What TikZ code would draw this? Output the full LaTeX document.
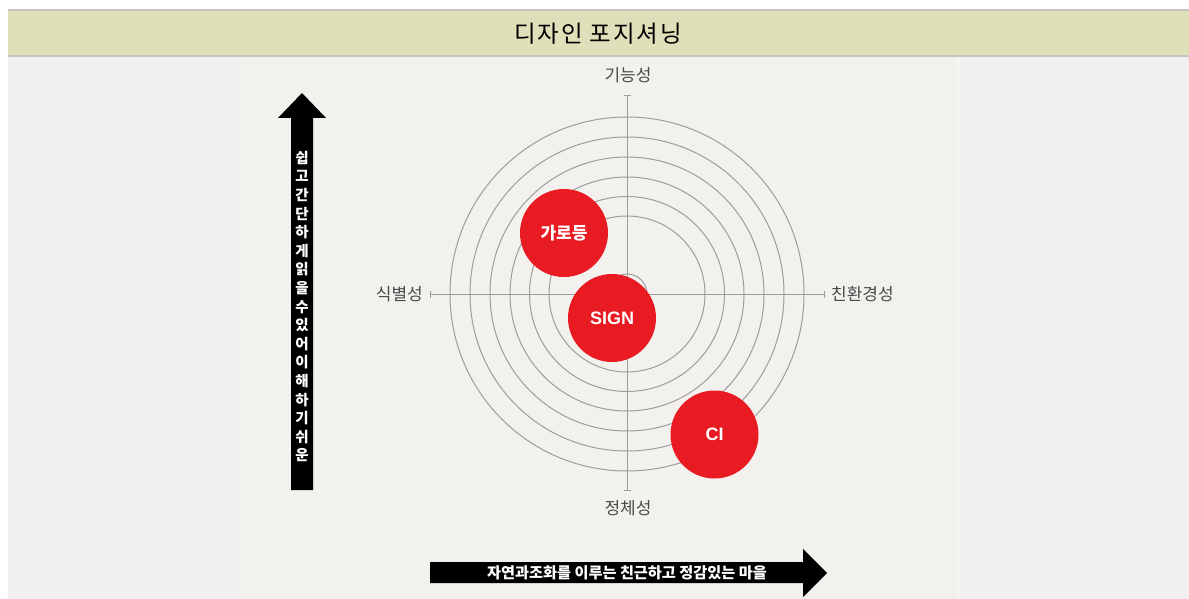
\documentclass[tikz,border=0pt]{standalone}
\usepackage{fontspec}
\setmainfont{Noto Sans CJK KR}
\newfontfamily\latfont{Liberation Sans}
\definecolor{pagebg}{HTML}{F0F0F0}
\definecolor{panelbg}{HTML}{F3F1EE}
\definecolor{titlebg}{HTML}{DFDFBA}
\definecolor{titleline}{HTML}{C4C4C4}
\definecolor{ringcol}{HTML}{9C9C9C}
\definecolor{labelcol}{HTML}{4A4A4A}
\definecolor{dotred}{HTML}{E81A22}
\tikzset{
  ring/.style={draw=ringcol, line width=1pt},
  axisline/.style={draw=ringcol, line width=1pt},
  axislabel/.style={text=labelcol, font=\fontsize{17}{20}\selectfont, inner sep=0pt},
  reddot/.style={circle, fill=dotred, minimum size=88pt, inner sep=0pt, text=white},
  blackarrow/.style={fill=black},
}
\begin{document}
\begin{tikzpicture}[x=1pt,y=-1pt]
\useasboundingbox (0,0) rectangle (1189,599);
\fill[white] (0,0) rectangle (1189,599);
\fill[pagebg] (8,57) rectangle (1189,599);
\fill[panelbg] (239,57) rectangle (958,599);
\draw[white!60!panelbg, line width=1pt] (958.5,57) -- (958.5,599);
\fill[titlebg] (8,10) rectangle (1189,56);
\draw[titleline, line width=1.2pt] (8,10) -- (1189,10);
\draw[titleline, line width=1.2pt] (8,56) -- (1189,56);
\node[font=\fontsize{23.5}{26}\selectfont\addfontfeature{LetterSpace=8}, inner sep=0pt] (title) at (598,34) {디자인 포지셔닝};

% rings
\coordinate (ctr) at (627,294);
\foreach \r in {20,78,97.5,117,137,157,177}
  \draw[ring] (ctr) circle[radius=\r];
% axes
\coordinate (axN) at (627,96);
\coordinate (axS) at (627,490);
\coordinate (axW) at (430,294);
\coordinate (axE) at (824,294);
\draw[axisline] (axN) -- (axS);
\draw[axisline] (axW) -- (axE);
\draw[axisline] ([xshift=-3.5pt]axN) -- ([xshift=3.5pt]axN);
\draw[axisline] ([xshift=-3.5pt]axS) -- ([xshift=3.5pt]axS);
\draw[axisline] ([yshift=-3.5pt]axW) -- ([yshift=3.5pt]axW);
\draw[axisline] ([yshift=-3.5pt]axE) -- ([yshift=3.5pt]axE);

\node[axislabel] (lblN) at (628,75) {기능성};
\node[axislabel] (lblS) at (628,508) {정체성};
\node[axislabel, anchor=east] (lblW) at (423,294) {식별성};
\node[axislabel, anchor=west] (lblE) at (831,294) {친환경성};

% red dots
\node[reddot, font=\fontsize{17}{20}\selectfont\bfseries] (lamp) at (564,233) {가로등};
\node[reddot, font=\latfont\fontsize{18}{20}\selectfont\bfseries] (sign) at (612,318) {SIGN};
\node[reddot, font=\latfont\fontsize{18}{20}\selectfont\bfseries] (ci) at (714.5,434.5) {CI};

% vertical arrow
\fill[blackarrow] (291,490) -- (291,118) -- (278,118) -- (302,93) -- (326,118) -- (313,118) -- (313,490) -- cycle;
\node[text=white, font=\fontsize{14.5}{18.6}\selectfont\bfseries, align=center, inner sep=0pt] (vtext) at (302,306.5)
  {쉽\\고\\간\\단\\하\\게\\읽\\을\\수\\있\\어\\이\\해\\하\\기\\쉬\\운};

% horizontal arrow
\fill[blackarrow] (430,562) -- (803,562) -- (803,549) -- (827,573) -- (803,597) -- (803,583) -- (430,583) -- cycle;
\node[text=white, font=\fontsize{15.2}{17}\selectfont\bfseries, inner sep=0pt] (htext) at (627,573)
  {자연과조화를 이루는 친근하고 정감있는 마을};
\end{tikzpicture}
\end{document}
